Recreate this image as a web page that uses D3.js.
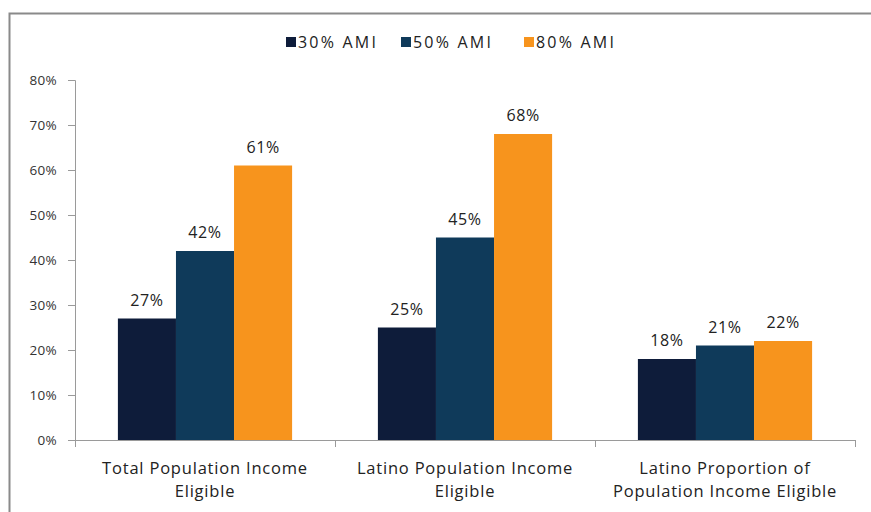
<!DOCTYPE html>
<html><head><meta charset="utf-8">
<script src="https://cdn.jsdelivr.net/npm/d3@7"></script>
<style>body{margin:0;background:#fff}svg{display:block}text{font-family:"Open Sans",sans-serif}</style>
</head><body><svg id="c" width="871" height="512"></svg>
<script>
const categories = [["Total Population Income", "Eligible"], ["Latino Population Income", "Eligible"], ["Latino Proportion of", "Population Income Eligible"]];
const seriesNames = ["30% AMI", "50% AMI", "80% AMI"];
const ami30 = [27, 25, 18];
const ami50 = [42, 45, 21];
const ami80 = [61, 68, 22];
const yTicks = [0, 10, 20, 30, 40, 50, 60, 70, 80];
const colors = ["#0e1c3a", "#0f3a5a", "#f7941d"];

(function() {
const series = [ami30, ami50, ami80];
const svg = d3.select("#c");
svg.append("path").attr("d", "M9.5,520 V13.5 H880").attr("fill", "none").attr("stroke", "#8a8a8a").attr("stroke-width", 2);

const pl = 75, pr = 855, pt = 80, pb = 440;
const x0 = d3.scaleBand().domain(d3.range(categories.length)).range([pl, pr]).paddingInner(0.33).paddingOuter(0.165);
const x1 = d3.scaleBand().domain(d3.range(series.length)).range([0, x0.bandwidth()]);
const y = d3.scaleLinear().domain([0, 80]).range([pb, pt]);

const ya = svg.append("g").attr("transform", `translate(${pl},0)`)
  .call(d3.axisLeft(y).tickValues(yTicks).tickFormat(d => d + "%").tickSize(7).tickPadding(11));
ya.select(".domain").attr("stroke", "#9a9a9a");
ya.selectAll(".tick line").attr("stroke", "#9a9a9a");
ya.selectAll("text").attr("font-size", 13.5).attr("fill", "#333").attr("letter-spacing", 0.3);

const xs = d3.scaleLinear().domain([0, 3]).range([pl, pr]);
svg.append("line").attr("x1", pl).attr("x2", pr).attr("y1", pb + 0.5).attr("y2", pb + 0.5).attr("stroke", "#9a9a9a");
svg.selectAll(".xt").data([0, 1, 2, 3]).join("line").attr("x1", d => xs(d) + 0.5).attr("x2", d => xs(d) + 0.5)
  .attr("y1", pb).attr("y2", pb + 7).attr("stroke", "#9a9a9a");

const g = svg.selectAll(".grp").data(categories).join("g").attr("transform", (d, i) => `translate(${x0(i)},0)`);
series.forEach((s, si) => {
  g.append("rect").attr("x", x1(si)).attr("width", x1.bandwidth())
    .attr("y", (d, i) => y(s[i])).attr("height", (d, i) => pb - y(s[i])).attr("fill", colors[si]);
  g.append("text").attr("x", x1(si) + x1.bandwidth() / 2).attr("y", (d, i) => y(s[i]) - 13)
    .attr("text-anchor", "middle").attr("font-size", 16).attr("letter-spacing", 0.6).attr("fill", "#222").text((d, i) => s[i] + "%");
});
g.each(function(d, i) {
  const t = d3.select(this).append("text").attr("text-anchor", "middle").attr("font-size", 16.5).attr("letter-spacing", 0.8).attr("fill", "#222");
  d.forEach((line, li) => t.append("tspan").attr("x", x0.bandwidth() / 2).attr("y", 474 + li * 23).text(line));
});

const legX = [286, 401, 524];
const lg = svg.selectAll(".lg").data(seriesNames).join("g").attr("transform", (d, i) => `translate(${legX[i]},37)`);
lg.append("rect").attr("width", 10).attr("height", 10).attr("fill", (d, i) => colors[i]);
lg.append("text").attr("x", 12).attr("y", 11).attr("font-size", 16).attr("letter-spacing", 2.2).attr("fill", "#222").text(d => d);
})();
</script></body></html>
